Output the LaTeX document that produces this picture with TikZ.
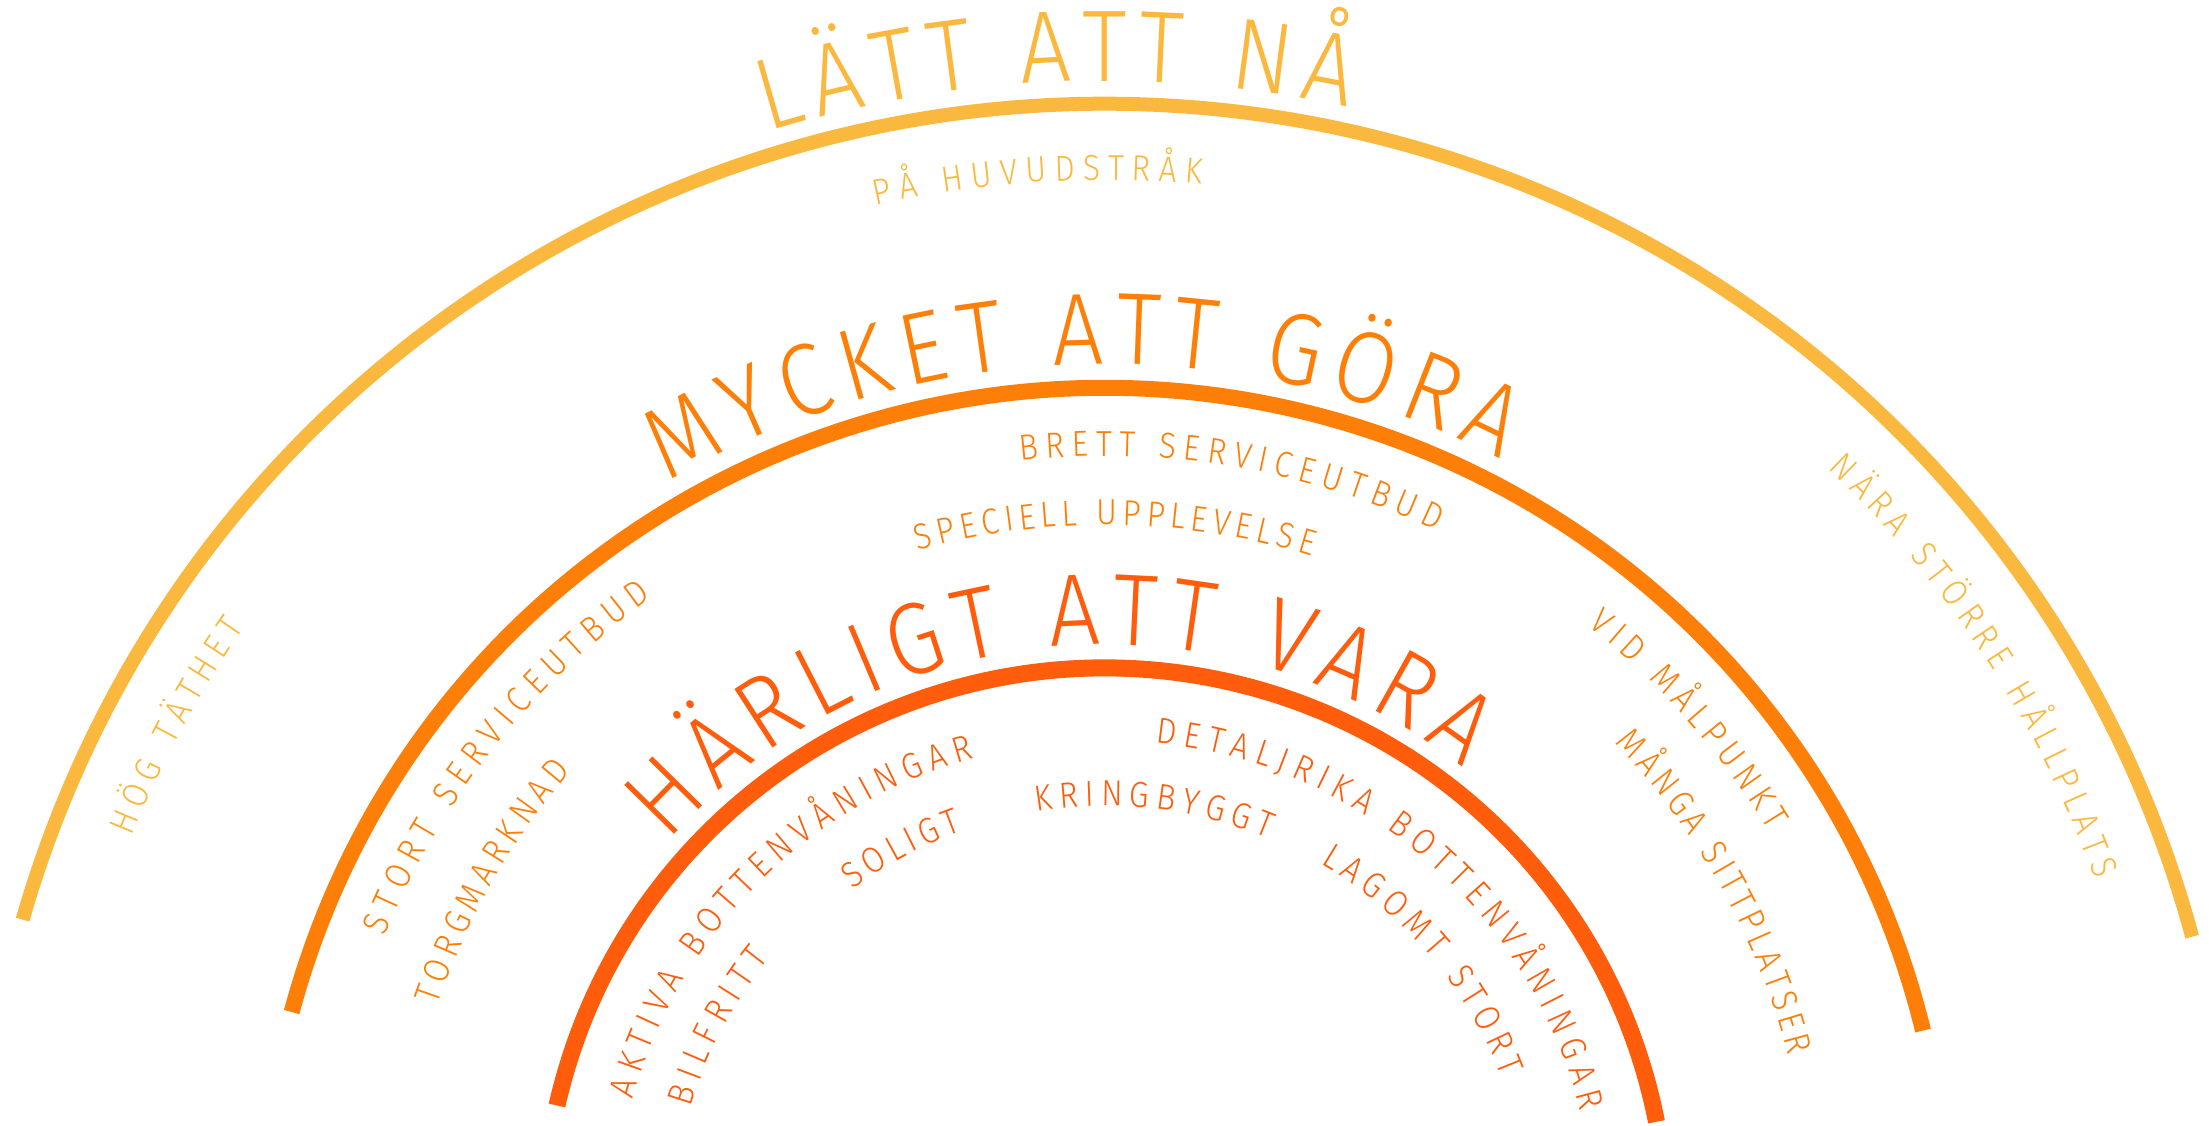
\documentclass[tikz,border=0pt]{standalone}
\usepackage{fontspec}
\setmainfont{Fira Sans Light}[FakeStretch=0.88]
\usetikzlibrary{decorations.text}

\definecolor{nacol}{RGB}{251,184,62}
\definecolor{goracol}{RGB}{253,127,8}
\definecolor{varacol}{RGB}{255,92,12}

% capitals with marks, kept whole along the path
\newcommand\capAuml{\char196}
\newcommand\capAring{\char197}
\newcommand\capOuml{\char214}

\tikzset{
  bow/.style={draw=#1, line cap=butt},
}

% text bent along a ring round the centre (c)
\newcommand\bowtext[6]{%
  \begingroup\fontsize{#5}{#5}\selectfont
  \path[decorate, decoration={text along path, text color=#1,
      text align={fit to path}, text={#6}}]
    (c) ++(#3:#2) arc[start angle=#3, end angle=#4, radius=#2];
  \endgroup}

\begin{document}
\begin{tikzpicture}[x=0.1mm,y=0.1mm]
    \useasboundingbox (0,0) rectangle (2209,1126);
    \coordinate (c) at (1105,-104);

    % the three rings
    \draw[bow=nacol, line width=1.4mm] (c) ++(164:1126) arc[start angle=164, end angle=15.1, radius=1126];
    \draw[bow=goracol, line width=1.6mm] (c) ++(165:842) arc[start angle=165, end angle=13.7, radius=842];
    \draw[bow=varacol, line width=1.7mm] (c) ++(167.2:562) arc[start angle=167.2, end angle=11.1, radius=562];

    % headings
    \bowtext{nacol}{1149}{107.1}{77.8}{29}{L{\capAuml}TT ATT N{\capAring}}
    \bowtext{goracol}{866}{120.3}{62.8}{29}{MYCKET ATT G{\capOuml}RA}
    \bowtext{varacol}{585}{138.4}{52.2}{29}{H{\capAuml}RLIGT ATT VARA}

    % outer ring
    \bowtext{nacol}{1050}{102.6}{84.7}{10.3}{P{\capAring} HUVUDSTR{\capAring}K}
    \bowtext{nacol}{1050}{158}{145}{10.3}{H{\capOuml}G T{\capAuml}THET}
    \bowtext{nacol}{1050}{46.5}{19.5}{10.3}{N{\capAuml}RA ST{\capOuml}RRE H{\capAring}LLPLATS}

    % middle ring
    \bowtext{goracol}{778}{157.8}{125.6}{10.3}{STORT SERVICEUTBUD}
    \bowtext{goracol}{774}{96.3}{64.6}{10.3}{BRETT SERVICEUTBUD}
    \bowtext{goracol}{774}{51.4}{31}{10.3}{VID M{\capAring}LPUNKT}
    \bowtext{goracol}{704}{161.4}{139.3}{10.3}{TORGMARKNAD}
    \bowtext{goracol}{705}{105.4}{72.9}{10.3}{SPECIELL UPPLEVELSE}
    \bowtext{goracol}{705}{43.7}{14.3}{10.3}{M{\capAring}NGA SITTPLATSER}

    % inner ring
    \bowtext{varacol}{490}{164.5}{105.5}{10.3}{AKTIVA BOTTENV{\capAring}NINGAR}
    \bowtext{varacol}{490}{84.1}{14}{10.3}{DETALJRIKA BOTTENV{\capAring}NINGAR}
    \bowtext{varacol}{432}{163.5}{141}{10.3}{BILFRITT}
    \bowtext{varacol}{424}{126.5}{109.7}{10.3}{SOLIGT}
    \bowtext{varacol}{424}{99.3}{67.4}{10.3}{KRINGBYGGT}
    \bowtext{varacol}{425}{59.6}{21}{10.3}{LAGOMT STORT}
\end{tikzpicture}
\end{document}
